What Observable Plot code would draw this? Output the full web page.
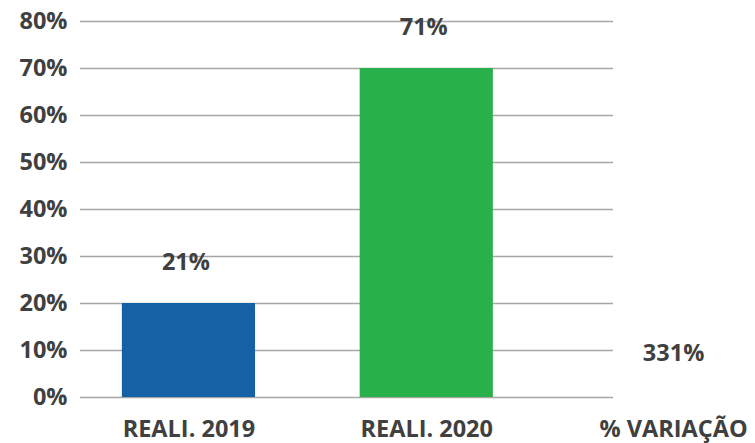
<!DOCTYPE html>
<html><head><meta charset="utf-8">
<script src="https://cdn.jsdelivr.net/npm/d3@7"></script>
<script src="https://cdn.jsdelivr.net/npm/@observablehq/plot@0.6"></script>
<style>body{margin:0;background:#fff;}</style>
</head><body><div id="chart"></div>
<script>
const categories = ["REALI. 2019", "REALI. 2020", "% VARIAÇÃO"];
const barValues = [0.20, 0.70];
const barLabels = ["21%", "71%"];
const variationLabel = "331%";
const yTicks = [0, 0.1, 0.2, 0.3, 0.4, 0.5, 0.6, 0.7, 0.8];
const barColors = ["#1461A6", "#28B04A"];

const bars = barValues.map((v, i) => ({category: categories[i], value: v, label: barLabels[i], color: barColors[i]}));
const variation = [{category: categories[2], value: 0, label: variationLabel}];
const FS = 23.5;
const TXT = "#404040";

const chart = Plot.plot({
  width: 755, height: 443,
  marginLeft: 80, marginRight: 142, marginTop: 21, marginBottom: 46,
  style: {fontFamily: "'Open Sans', sans-serif", fontSize: FS + "px", fontWeight: 700, color: TXT, background: "#fff", overflow: "visible"},
  x: {type: "band", domain: categories, range: [80, 772.5], paddingInner: 0.44, paddingOuter: 0.176, round: false, label: null},
  y: {domain: [0, 0.8], label: null},
  color: {type: "identity"},
  marks: [
    Plot.gridY(yTicks, {stroke: "#a6a6a6", strokeOpacity: 1, strokeWidth: 1.5}),
    Plot.barY(bars, {x: "category", y: "value", fill: "color"}),
    Plot.text(bars, {x: "category", y: "value", text: "label", dy: -34, dx: -3, lineAnchor: "bottom", fill: TXT, fontSize: FS, fontWeight: 700}),
    Plot.text(variation, {x: "category", y: "value", text: "label", dy: -37, dx: 9, lineAnchor: "bottom", fill: TXT, fontSize: FS, fontWeight: 700}),
    Plot.axisY(yTicks, {tickSize: 0, tickPadding: 13, tickFormat: d => Math.round(d * 100) + "%", fill: TXT, fontSize: FS, fontWeight: 700, label: null}),
    Plot.axisX(categories.slice(0, 2), {tickSize: 0, tickPadding: 23, fill: TXT, fontSize: FS, fontWeight: 700, label: null}),
    Plot.axisX(categories.slice(2), {tickSize: 0, tickPadding: 23, dx: 9, fill: TXT, fontSize: FS, fontWeight: 700, label: null})
  ]
});
document.getElementById("chart").appendChild(chart);
</script>
</body></html>
